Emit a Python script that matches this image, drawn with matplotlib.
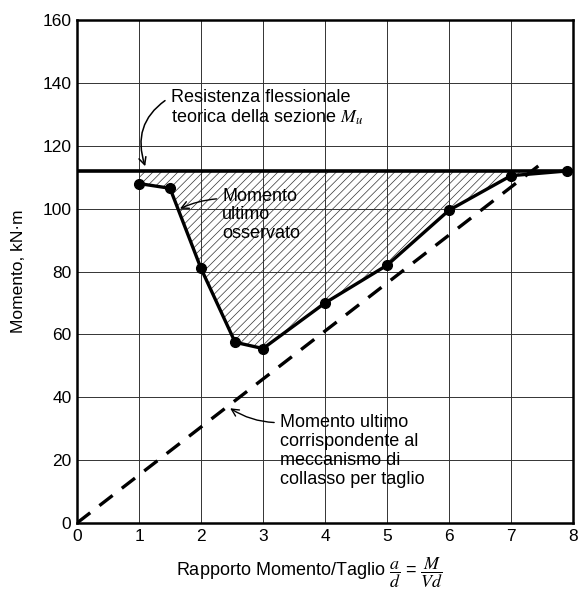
import matplotlib.pyplot as plt
import numpy as np

plt.rcParams['font.family'] = ['Liberation Sans', 'DejaVu Sans']
plt.rcParams['mathtext.fontset'] = 'stix'

# rapporto a/d e momento ultimo osservato (kN·m)
a_d = [1.0, 1.5, 2.0, 2.55, 3.0, 4.0, 5.0, 6.0, 7.0, 7.9]
m_obs = [108, 106.5, 81, 57.5, 55.5, 70, 82, 99.5, 110.5, 112]

# resistenza flessionale teorica
m_u = 112

# meccanismo di collasso per taglio (retta)
shear_x = [0, 7.5]
shear_m = [0, 114.5]

x_ticks = [0, 1, 2, 3, 4, 5, 6, 7, 8]
y_ticks = [0, 20, 40, 60, 80, 100, 120, 140, 160]

fig = plt.figure(figsize=(5.79, 5.92), dpi=100)
ax = fig.add_axes([0.133, 0.1166, 0.8566, 0.8494])

ax.set_xlim(0, 8)
ax.set_ylim(0, 160)
ax.set_xticks(x_ticks)
ax.set_yticks(y_ticks)
ax.grid(True, color='#333333', linewidth=0.7)
ax.set_axisbelow(True)
ax.tick_params(length=0, labelsize=12.5, pad=4)
for s in ax.spines.values():
    s.set_linewidth(1.8)

# area tratteggiata tra Mu e momento osservato
plt.rcParams['hatch.linewidth'] = 0.5
ax.fill_between(a_d, m_obs, m_u, facecolor='none', edgecolor='#333333',
                hatch='////', linewidth=0)

ax.axhline(m_u, color='black', linewidth=2.6)
ax.plot(shear_x, shear_m, color='black', linewidth=2.4, dashes=(5, 3.5))
ax.plot(a_d, m_obs, color='black', linewidth=2.4, marker='o', markersize=7)

ax.annotate('Resistenza flessionale\nteorica della sezione $M_u$',
            xy=(1.1, 113.5), xytext=(1.52, 132),
            fontsize=13, va='center', ha='left', linespacing=1.15,
            arrowprops=dict(arrowstyle='->', color='black', lw=1.1,
                            connectionstyle='arc3,rad=0.4',
                            shrinkA=3, shrinkB=0, relpos=(0, 0.8)))

ax.annotate('Momento\nultimo\nosservato',
            xy=(1.66, 100), xytext=(2.34, 98),
            fontsize=13, va='center', ha='left', linespacing=1.15,
            arrowprops=dict(arrowstyle='->', color='black', lw=1.0,
                            connectionstyle='arc3,rad=0.1',
                            shrinkA=2, shrinkB=0, relpos=(0, 0.8)))

ax.annotate('Momento ultimo\ncorrispondente al\nmeccanismo di\ncollasso per taglio',
            xy=(2.47, 36.5), xytext=(3.27, 23),
            fontsize=13, va='center', ha='left', linespacing=1.15,
            arrowprops=dict(arrowstyle='->', color='black', lw=1.0,
                            connectionstyle='arc3,rad=-0.15',
                            shrinkA=2, shrinkB=0,
                            relpos=(0, 0.88)))

ax.set_xlabel(r'Rapporto Momento/Taglio $\dfrac{a}{d}$ = $\dfrac{M}{Vd}$',
              fontsize=13)
ax.xaxis.set_label_coords(0.47, -0.065)
ax.set_ylabel('Momento, kN·m', fontsize=12.5, labelpad=12)

fig.savefig('out.png', dpi=100)
